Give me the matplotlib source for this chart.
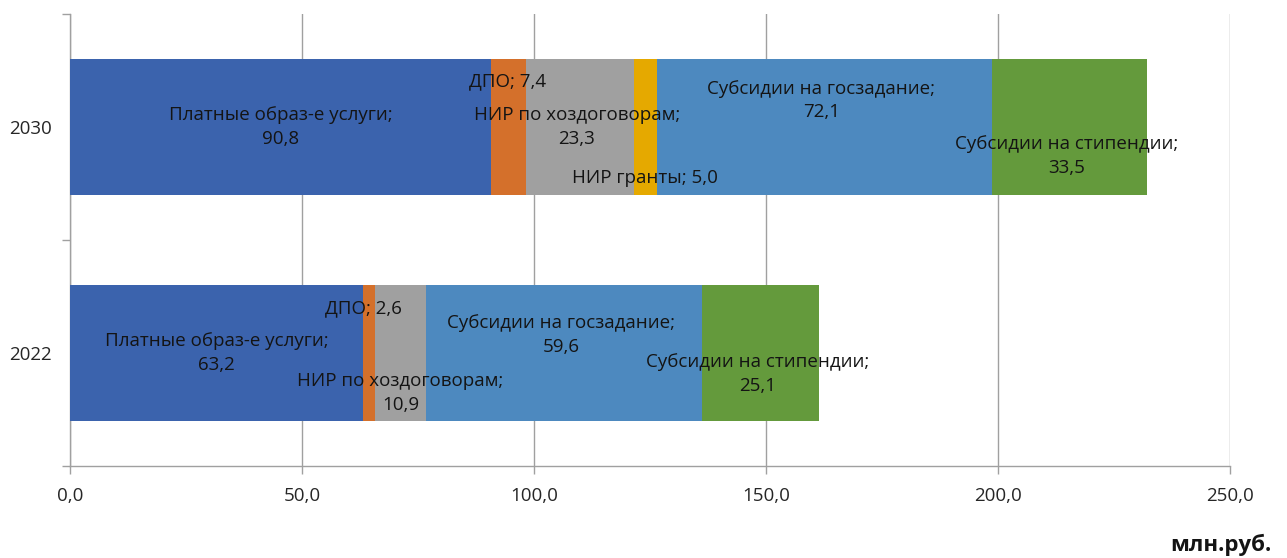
import matplotlib
matplotlib.use('Agg')
import matplotlib.pyplot as plt
import numpy as np

plt.rcParams['font.family'] = ['Open Sans', 'DejaVu Sans']

years = ['2022', '2030']
series = ['Платные образ-е услуги', 'ДПО', 'НИР по хоздоговорам',
          'НИР гранты', 'Субсидии на госзадание', 'Субсидии на стипендии']
values_2022 = [63.2, 2.6, 10.9, 0.0, 59.6, 25.1]
values_2030 = [90.8, 7.4, 23.3, 5.0, 72.1, 33.5]
x_ticks = [0, 50, 100, 150, 200, 250]

colors = ['#3B63AD', '#D4702B', '#A0A0A0', '#E5A900', '#4D89BF', '#649A3C']

# label offsets (points) relative to segment centre, like Excel's shuffled labels
label_offsets = {
    '2022': [(0, 0), (-4, 32), (0, -29), (0, 0), (-2, 13), (-2, -15)],
    '2030': [(0, 0), (-1, 33), (-2, 0), (0, -37), (-2, 19), (-2, -21)],
}
one_line = ['ДПО', 'НИР гранты']

data = np.array([values_2022, values_2030])
ypos = np.arange(len(years))

fig = plt.figure(figsize=(12.87, 5.58), dpi=100)
ax = fig.add_axes([70 / 1287, 1 - 466 / 558, 1160 / 1287, 452 / 558])

left = np.zeros(len(years))
for i, name in enumerate(series):
    ax.barh(ypos, data[:, i], left=left, height=0.606, color=colors[i],
            edgecolor='none', zorder=3)
    for j, yr in enumerate(years):
        v = data[j, i]
        if v <= 0:
            continue
        cx = left[j] + v / 2
        sep = ' ' if name in one_line else '\n'
        txt = '%s;%s%s' % (name, sep, ('%.1f' % v).replace('.', ','))
        dx, dy = label_offsets[yr][i]
        ax.annotate(txt, (cx, ypos[j]), xytext=(dx, dy), textcoords='offset points',
                    ha='center', va='center', fontsize=13.5, color='#141414',
                    linespacing=1.4, zorder=5)
    left = left + data[:, i]

ax.set_xlim(0, 250)
ax.set_ylim(-0.5, 1.5)
ax.set_xticks(x_ticks)
ax.set_xticklabels([('%.1f' % t).replace('.', ',') for t in x_ticks], fontsize=13.5, color='#262626')
ax.tick_params(axis='x', length=6, width=1, color='#A0A0A0', pad=9)
ax.grid(axis='x', color='#A0A0A0', linewidth=1, zorder=0)

ax.set_yticks([-0.5, 0.5, 1.5])
ax.set_yticklabels([])
ax.set_yticks(ypos, minor=True)
ax.set_yticklabels(years, minor=True, fontsize=13.5, color='#262626')
ax.tick_params(axis='y', which='major', length=6, width=1, color='#A0A0A0')
ax.tick_params(axis='y', which='minor', length=0, pad=13)

for s in ['top', 'right']:
    ax.spines[s].set_visible(False)
for s in ['left', 'bottom']:
    ax.spines[s].set_color('#A0A0A0')
    ax.spines[s].set_linewidth(1)

fig.text(1272 / 1287, 1 - 545 / 558, 'млн.руб.', ha='right', va='center',
         fontsize=16, fontweight='bold', color='#141414')

fig.savefig('out.png', dpi=100)
